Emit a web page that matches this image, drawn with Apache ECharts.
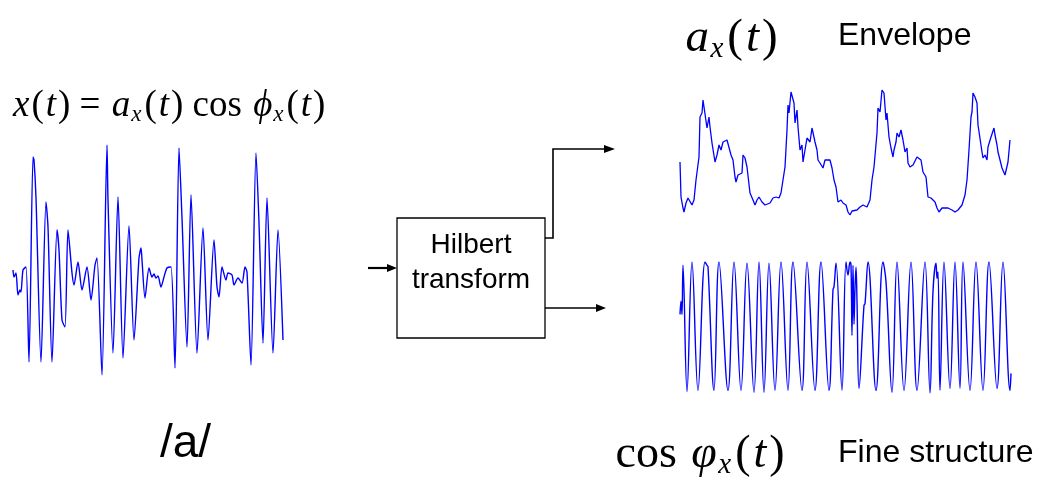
<!DOCTYPE html>
<html>
<head>
<meta charset="utf-8">
<script src="https://cdn.jsdelivr.net/npm/echarts@6/dist/echarts.min.js"></script>
<style>html,body{margin:0;padding:0;background:#fff}#c{width:1054px;height:486px}</style>
</head>
<body>
<div id="c"></div>
<script>
// Speech waveform of the vowel /a/: [sample, amplitude (arb. units)]
const speechWave = [[0,-2],[1,-9],[3,-5],[5,-27],[7,-22],[8,-24],[10,-2],[13,1],[16,-94],[20,111],[21,108],[23,70],[28,-94],[33,66],[35,41],[39,-94],[44,38],[46,18],[49,-52],[52,-59],[55,38],[59,-5],[61,-17],[65,6],[69,-22],[74,1],[78,-32],[82,3],[84,10],[89,-107],[94,123],[95,68],[100,-85],[105,71],[110,-90],[116,42],[121,-72],[126,10],[128,20],[129,8],[132,-30],[136,0],[139,-9],[141,-6],[143,-10],[145,-8],[148,-19],[151,-9],[154,0],[158,1],[162,-100],[166,120],[169,50],[174,-79],[178,73],[184,-85],[190,40],[195,-72],[201,28],[204,-19],[206,-29],[209,1],[213,-12],[215,-5],[219,-7],[221,-17],[225,-10],[229,-15],[232,1],[234,-4],[238,-97],[243,115],[246,45],[250,-75],[254,70],[260,-85],[265,38],[270,-72]];

// Hilbert envelope a_x(t): [sample, envelope (arb. units)]
const envelope = [[0,53],[1,18],[3,7],[4,3],[6,12],[8,17],[12,10],[14,15],[16,35],[19,58],[20,98],[22,102],[23,115],[25,114],[27,87],[29,98],[30,88],[32,72],[33,70],[35,53],[37,60],[39,70],[41,65],[43,73],[45,72],[47,75],[49,77],[51,60],[53,55],[55,38],[56,33],[58,40],[60,38],[62,42],[63,60],[65,57],[67,48],[70,22],[73,15],[75,10],[77,15],[79,18],[82,13],[85,10],[87,8],[90,12],[93,17],[96,18],[99,17],[101,22],[103,35],[105,48],[107,85],[108,110],[109,102],[111,123],[113,125],[114,112],[115,92],[117,105],[118,88],[120,65],[122,70],[123,53],[125,65],[127,77],[128,78],[130,73],[132,87],[133,85],[135,73],[137,65],[138,55],[140,52],[143,47],[145,55],[147,53],[150,55],[152,47],[154,35],[156,28],[158,13],[161,15],[163,12],[166,10],[168,3],[170,0],[172,4],[174,2],[177,5],[180,8],[183,10],[187,8],[190,15],[192,35],[194,48],[197,82],[198,107],[200,103],[202,125],[203,127],[204,122],[206,95],[207,102],[209,78],[211,67],[213,58],[214,65],[216,73],[217,82],[219,78],[221,85],[223,75],[225,63],[227,67],[228,52],[230,48],[233,50],[235,48],[237,58],[238,60],[241,55],[243,43],[246,38],[248,18],[251,17],[253,15],[255,13],[257,7],[259,3],[262,7],[265,7],[268,7],[272,5],[275,3],[278,5],[282,10],[285,20],[287,35],[289,65],[291,98],[292,103],[293,122],[295,118],[297,112],[298,90],[300,88],[302,63],[303,57],[305,60],[307,55],[308,68],[311,78],[313,80],[314,87],[315,80],[317,70],[318,63],[320,55],[322,47],[324,45],[325,40],[327,42],[328,53],[330,75]];

// Fine structure cos(phi_x(t)): [sample, value in -1..1]
const fineStructure = [[0,0.2],[1,0.4],[2,0.2],[3,0.95],[7,-0.98],[12,1.0],[18,-0.96],[25,1.0],[27,0.95],[28,0.93],[34,-0.96],[39,1.0],[48,-0.96],[54,1.0],[61,-0.96],[67,0.98],[74,-0.99],[79,1.0],[84,-0.99],[89,0.98],[95,-0.96],[101,1.0],[108,-0.96],[113,1.0],[122,-0.96],[127,1.0],[135,-0.96],[141,1.0],[149,-0.96],[153,0.58],[154,0.62],[156,0.98],[162,-0.96],[166,1.0],[168,0.8],[170,1.0],[171,0.95],[172,-0.12],[173,0.95],[174,0.05],[175,0.6],[176,0.92],[177,0.4],[179,-0.93],[184,0.34],[185,0.36],[188,1.0],[196,-0.96],[203,1.0],[206,0.7],[212,-0.99],[217,1.0],[224,-0.96],[231,1.0],[237,-0.96],[245,1.0],[250,-1.0],[253,0.55],[256,0.98],[257,0.75],[258,0.85],[260,-0.96],[264,1.0],[270,-0.93],[275,1.0],[280,-0.93],[283,1.0],[290,-0.96],[296,1.0],[303,-0.96],[309,1.0],[317,-0.93],[323,1.0],[330,-0.96],[331,-0.7]];

// Texts
const formulaMain = '{i|x}{n|(}{i|t}{n|) = }{i|a}{s|x}{n|(}{i|t}{n|) cos }{i|ϕ}{s|x}{n|(}{i|t}{n|)}';
const formulaEnv = '{i|a}{s|x}{n|(}{i|t}{n|)}';
const formulaFine = '{n|cos}{i| φ}{s|x}{n|(}{i|t}{n|)}';
const labelEnvelope = 'Envelope';
const labelFine = 'Fine structure';
const labelVowel = '/a/';
const boxText = 'Hilbert\ntransform';

const SERIF = '"Liberation Serif", "DejaVu Serif", serif';
const SANS = '"Liberation Sans", Arial, sans-serif';
function mathRich(size, pad) {
  return {
    n: {fontFamily: SERIF, fontSize: size, color: '#000', padding: [0, pad, 0, pad]},
    i: {fontFamily: SERIF, fontSize: size, fontStyle: 'italic', color: '#000', padding: [0, pad, 0, pad]},
    s: {fontFamily: SERIF, fontSize: Math.round(size * 0.62), fontStyle: 'italic', color: '#000', padding: [Math.round(size * 0.45), pad + 1, 0, 0]}
  };
}
const blue = '#0000ff';
const chart = echarts.init(document.getElementById('c'), null, {renderer: 'canvas'});
chart.setOption({
  animation: false,
  backgroundColor: '#fff',
  grid: [
    {left: 13, top: 145, width: 272, height: 230},
    {left: 680, top: 88, width: 330, height: 127},
    {left: 680, top: 262, width: 331, height: 131}
  ],
  xAxis: [
    {type: 'value', gridIndex: 0, min: 0, max: 272, show: false},
    {type: 'value', gridIndex: 1, min: 0, max: 330, show: false},
    {type: 'value', gridIndex: 2, min: 0, max: 331, show: false}
  ],
  yAxis: [
    {type: 'value', gridIndex: 0, min: -107, max: 123, show: false},
    {type: 'value', gridIndex: 1, min: 0, max: 127, show: false},
    {type: 'value', gridIndex: 2, min: -1, max: 1, show: false}
  ],
  series: [
    {type: 'line', xAxisIndex: 0, yAxisIndex: 0, data: speechWave, showSymbol: false, smooth: 0.25, lineStyle: {color: blue, width: 1.4}},
    {type: 'line', xAxisIndex: 1, yAxisIndex: 1, data: envelope, showSymbol: false, smooth: false, lineStyle: {color: blue, width: 1.3}},
    {type: 'line', xAxisIndex: 2, yAxisIndex: 2, data: fineStructure, showSymbol: false, smooth: 0.4, lineStyle: {color: blue, width: 1.4}}
  ],
  graphic: [
    {type: 'text', x: 12, y: 106, style: {text: formulaMain, rich: mathRich(37, 1), verticalAlign: 'middle'}},
    {type: 'text', x: 684, y: 39, style: {text: formulaEnv, rich: mathRich(47, 1.5), verticalAlign: 'middle'}},
    {type: 'text', x: 614, y: 455, style: {text: formulaFine, rich: mathRich(46, 1.5), verticalAlign: 'middle'}},
    {type: 'text', left: 838, top: 20, style: {text: labelEnvelope, fontFamily: SANS, fontSize: 32, fill: '#000'}},
    {type: 'text', left: 838, top: 437, style: {text: labelFine, fontFamily: SANS, fontSize: 32, fill: '#000'}},
    {type: 'text', left: 160, top: 421, style: {text: labelVowel, fontFamily: SANS, fontSize: 46, fill: '#000'}},
    {type: 'rect', shape: {x: 397, y: 218, width: 148, height: 120}, style: {fill: 'none', stroke: '#000', lineWidth: 1.3}},
    {type: 'text', x: 471, y: 263, style: {text: boxText, fontFamily: SANS, fontSize: 28, lineHeight: 35, align: 'center', verticalAlign: 'middle', fill: '#000'}},
    {type: 'polyline', shape: {points: [[368, 268], [390, 268]]}, style: {stroke: '#000', lineWidth: 2.2}},
    {type: 'polygon', shape: {points: [[387, 264], [397, 268], [387, 272]]}, style: {fill: '#000'}},
    {type: 'polyline', shape: {points: [[545, 238], [553, 238], [553, 149], [606, 149]]}, style: {stroke: '#000', lineWidth: 1.6, fill: 'none'}},
    {type: 'polygon', shape: {points: [[604, 145], [615, 149], [604, 153]]}, style: {fill: '#000'}},
    {type: 'polyline', shape: {points: [[545, 308], [598, 308]]}, style: {stroke: '#000', lineWidth: 1.6}},
    {type: 'polygon', shape: {points: [[596, 304], [606, 308], [596, 312]]}, style: {fill: '#000'}}
  ]
});
</script>
</body>
</html>
